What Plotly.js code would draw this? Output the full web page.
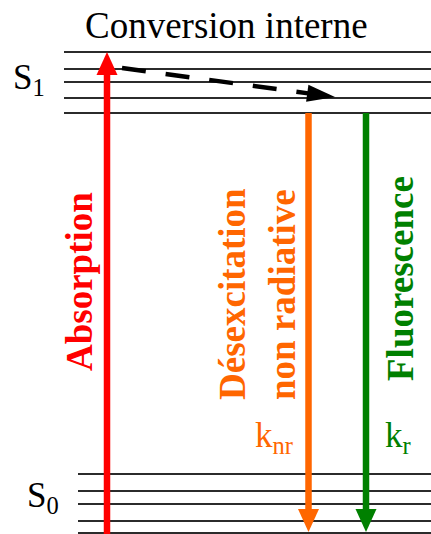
<!DOCTYPE html>
<html><head><meta charset="utf-8">
<script src="https://cdn.plot.ly/plotly-3.0.1.min.js"></script>
<style>html,body{margin:0;padding:0;background:#fff}#g{width:431px;height:534px}</style>
</head><body><div id="g"></div>
<script>
// Energy levels (diagram units, y grows downward)
const s1Levels = [52, 69, 82, 98, 113];
const s0Levels = [474, 491, 504, 521, 533];
const s1Start = 64, s0Start = 78, levelEnd = 431;

// Vertical transitions
const transNames  = ['Absorption', 'Désexcitation non radiative', 'Fluorescence'];
const transX      = [107, 308.5, 366];
const transFrom   = [534, 113, 113];
const transTo     = [52, 532, 532];
const transColors = ['#FF0000', '#FF6600', '#008000'];

// Internal conversion (dashed)
const icFrom = [122, 68];
const icTo   = [335, 97];

const levelColor = '#2b2b2b';
const headLen = 23, headW = 21;

const traces = [];
function addLevels(levels, x0) {
  levels.forEach(y => traces.push({type:'scatter', mode:'lines', x:[x0, levelEnd], y:[y, y],
    line:{color:levelColor, width:2}, hoverinfo:'skip'}));
}
addLevels(s1Levels, s1Start);
addLevels(s0Levels, s0Start);

function addArrow(p0, p1, color, width, dash, hl, hw) {
  const dx = p1[0]-p0[0], dy = p1[1]-p0[1];
  const L = Math.hypot(dx, dy), ux = dx/L, uy = dy/L;
  const bx = p1[0]-ux*hl, by = p1[1]-uy*hl;
  traces.push({type:'scatter', mode:'lines', x:[p0[0], bx+ux*1], y:[p0[1], by+uy*1],
    line:{color:color, width:width, dash:dash||'solid'}, hoverinfo:'skip'});
  const px = -uy, py = ux;
  traces.push({type:'scatter', mode:'lines', fill:'toself', fillcolor:color,
    x:[p1[0], bx+px*hw/2, bx-px*hw/2, p1[0]],
    y:[p1[1], by+py*hw/2, by-py*hw/2, p1[1]],
    line:{color:color, width:0}, hoverinfo:'skip'});
}
for (let i=0;i<transX.length;i++) {
  addArrow([transX[i], transFrom[i]], [transX[i], transTo[i]], transColors[i], 6.5, null, headLen, headW);
}
addArrow(icFrom, icTo, '#000', 4.5, '24px,20px', 28, 17);

const serif = '"Liberation Serif", "Times New Roman", serif';
const ann = (text, x, y, size, color, opts) => Object.assign({text, x, y, xref:'x', yref:'y',
  showarrow:false, font:{family:serif, size, color}, xanchor:'center', yanchor:'middle'}, opts||{});

const layout = {
  width:431, height:534, margin:{l:0,r:0,t:0,b:0},
  paper_bgcolor:'#fff', plot_bgcolor:'#fff', showlegend:false,
  font:{family:serif},
  xaxis:{range:[0,431], visible:false, fixedrange:true},
  yaxis:{range:[534,0], visible:false, fixedrange:true},
  annotations:[
    ann('Conversion interne', 226, 25, 37, '#000'),
    ann('S<sub>1</sub>', 11, 79, 35, '#000', {xanchor:'left'}),
    ann('S<sub>0</sub>', 25, 497, 35, '#000', {xanchor:'left'}),
    ann('<b>Absorption</b>', 79, 282, 37, transColors[0], {textangle:-90}),
    ann('<b>Désexcitation</b>', 232, 294, 37, transColors[1], {textangle:-90}),
    ann('<b>non radiative</b>', 282, 295, 37, transColors[1], {textangle:-90}),
    ann('<b>Fluorescence</b>', 400, 279, 37, transColors[2], {textangle:-90}),
    ann('k<sub>nr</sub>', 253, 437, 35, transColors[1], {xanchor:'left'}),
    ann('k<sub>r</sub>', 383, 437, 35, transColors[2], {xanchor:'left'})
  ]
};
Plotly.newPlot('g', traces, layout, {staticPlot:true, displayModeBar:false});
</script></body></html>
